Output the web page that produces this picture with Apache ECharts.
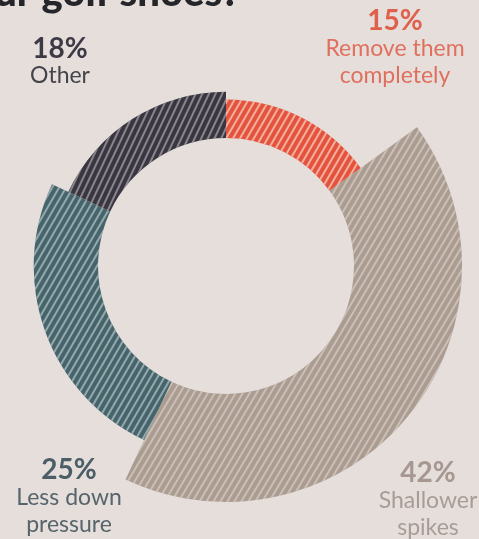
<!DOCTYPE html>
<html>
<head>
<meta charset="utf-8">
<script src="https://cdn.jsdelivr.net/npm/echarts@6/dist/echarts.min.js"></script>
<style>
html,body{margin:0;padding:0;background:#e5dedb;}
#c{width:479px;height:539px;}
</style>
</head>
<body>
<div id="c"></div>
<script>
const categories = ['Remove them\ncompletely', 'Shallower\nspikes', 'Less down\npressure', 'Other'];
const values = [15, 42, 25, 18];
const percentLabels = ['15%', '42%', '25%', '18%'];
const titleText = 'your golf shoes?';

const fillColors = ['#e4533d', '#ab9c92', '#45646b', '#3a3640'];
const stripeColors = ['rgba(250,205,190,0.75)', 'rgba(225,214,205,0.6)', 'rgba(215,225,225,0.55)', 'rgba(215,212,220,0.5)'];
const textColors = ['#e0604c', '#a69791', '#4b5d65', '#3d3a45'];
const nameColors = ['#e0705e', '#a89c97', '#56646b', '#45434b'];
const labelPos = [[395, 48], [428, 500], [69, 497], [60, 62]];
const stripeRot = [-Math.PI / 3, -Math.PI * 0.33, -Math.PI / 3, -Math.PI * 0.36];

const chart = echarts.init(document.getElementById('c'), null, {renderer: 'canvas'});

const data = values.map((v, i) => ({
  value: v,
  name: categories[i],
  itemStyle: {
    color: fillColors[i],
    decal: {
      symbol: 'rect',
      symbolSize: 1,
      dashArrayX: [1, 0],
      dashArrayY: [1.6, 3.2],
      rotation: stripeRot[i],
      color: stripeColors[i]
    }
  },
  label: {
    rich: {
      p: {fontFamily: 'Lato', fontWeight: 'bold', fontSize: 28, lineHeight: 28, color: textColors[i], align: 'center'},
      n: {fontFamily: 'Lato', fontSize: 23, lineHeight: 27, color: nameColors[i], align: 'center'}
    }
  }
}));

chart.setOption({
  backgroundColor: '#e5dedb',
  animation: false,
  graphic: [{
    type: 'text',
    style: {
      text: titleText,
      x: 240,
      y: 13,
      align: 'right',
      verticalAlign: 'bottom',
      fontFamily: 'Lato',
      fontWeight: 900,
      fontSize: 40,
      fill: '#26262a'
    }
  }],
  series: [{
    type: 'pie',
    roseType: 'radius',
    center: [226, 266],
    radius: [128, 236],
    startAngle: 90,
    clockwise: true,
    avoidLabelOverlap: false,
    silent: true,
    data: data,
    label: {
      show: true,
      formatter: function (p) {
        const lines = p.name.split('\n').map(s => '{n|' + s + '}');
        return '{p|' + percentLabels[p.dataIndex] + '}\n' + lines.join('\n');
      }
    },
    labelLine: {show: false},
    labelLayout: function (params) {
      const pos = labelPos[params.dataIndex];
      return {x: pos[0], y: pos[1], align: 'center', verticalAlign: 'middle'};
    }
  }]
});
</script>
</body>
</html>
